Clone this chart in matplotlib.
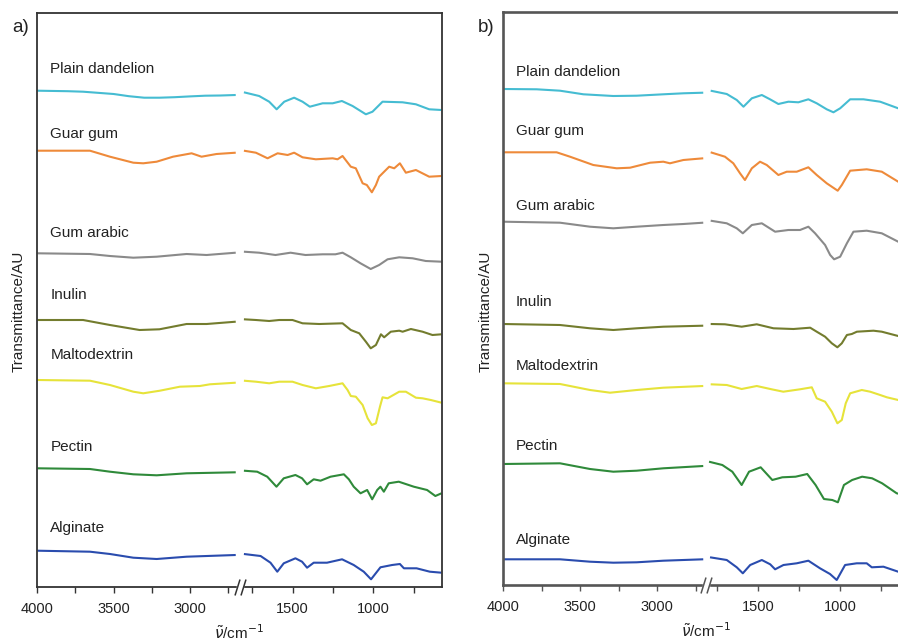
import numpy as np
import matplotlib
matplotlib.use("Agg")
import matplotlib.pyplot as plt
from matplotlib.path import Path

plt.rcParams['font.family'] = ['Liberation Sans', 'DejaVu Sans']

# ---------------- data ----------------
names = ["Plain dandelion", "Guar gum", "Gum arabic", "Inulin",
         "Maltodextrin", "Pectin", "Alginate"]
colors = ["#45bcd2", "#ee8a3a", "#8a8a8a", "#737c2e", "#e6e33a", "#2f8a3a", "#2a4cae"]

tick_major = [4000, 3500, 3000, 1500, 1000]
tick_minor = [3750, 3250, 2750, 1750, 1250, 750]

# baseline levels (AU) of each stacked spectrum
offsets_a = [496.3, 436.3, 333.7, 267.0, 207.0, 118.7, 36.3]
offsets_b = [496.0, 432.7, 363.3, 261.0, 201.7, 121.0, 25.7]

# panel a spectra: wavenumbers (cm-1) and transmittance change (AU, negative = absorption)
a_dandelion_wn = [4000, 3800, 3700, 3500, 3400, 3300, 3200, 3100, 3000, 2900, 2800, 2700,
                  1800, 1706, 1644, 1598, 1551, 1490, 1438, 1393, 1314, 1252, 1195, 1129,
                  1047, 1006, 944, 820, 738, 656, 580]
a_dandelion_t = [0, -0.5, -1, -3.3, -5.5, -7, -7, -6.5, -5.7, -5, -4.8, -4.3,
                 -1.6, -5.3, -11, -18.6, -11, -7, -11, -16, -12.6, -12.6, -10.3, -15.3,
                 -23.6, -21, -11, -11.6, -13.6, -18.6, -19.3]
a_guar_wn = [4000, 3742, 3655, 3524, 3371, 3306, 3218, 3111, 2989, 2924, 2826, 2700,
             1800, 1726, 1654, 1592, 1530, 1490, 1438, 1356, 1252, 1222, 1191, 1140, 1109,
             1067, 1041, 1010, 985, 965, 903, 872, 837, 800, 738, 656, 580]
a_guar_t = [0, 0, 0, -6, -12, -12.6, -11, -6, -2.6, -6, -3.3, -2,
            0, -2, -7.6, -2.6, -4.3, -2, -6.6, -8.6, -7.6, -8.6, -5.3, -16, -17.6,
            -32.6, -34.3, -41.6, -34.3, -26, -16, -17.6, -12.6, -22, -19.3, -26, -25.3]
a_arabic_wn = [4000, 3655, 3524, 3371, 3218, 3022, 2891, 2700,
               1800, 1706, 1605, 1512, 1420, 1314, 1235, 1191, 1140, 1080, 1017, 965, 913,
               841, 758, 677, 580]
a_arabic_t = [0, -0.7, -2.7, -4.4, -3.4, -0.7, -1.7, 0.6,
              1.6, 0.6, -1.7, 0.6, -1.7, -1, -1, 0.6, -4, -10, -15.7, -11.7, -6,
              -4, -5, -7.7, -8.4]
a_inulin_wn = [4000, 3700, 3524, 3330, 3200, 3022, 2891, 2700,
               1800, 1726, 1644, 1582, 1500, 1438, 1335, 1191, 1140, 1088, 1047, 1017, 985,
               954, 934, 893, 841, 820, 769, 697, 636, 580]
a_inulin_t = [0, 0, -5, -10, -9.3, -4, -4, -1.7,
              0.7, 0, -1, 0, 0, -3.3, -4, -3.3, -10, -13.3, -21.7, -28.3, -25,
              -14.3, -17.3, -11.7, -10.7, -11.7, -9, -11.7, -15, -14.3]
a_malto_wn = [4000, 3655, 3524, 3371, 3306, 3197, 3066, 2935, 2869, 2700,
              1800, 1726, 1644, 1582, 1500, 1438, 1356, 1274, 1191, 1160, 1140, 1109, 1067,
              1036, 1010, 985, 960, 944, 913, 841, 800, 738, 697, 646, 580]
a_malto_t = [0, -0.7, -5, -11.7, -13.3, -10.7, -6.7, -6, -4.3, -2.7,
             -0.7, -1.7, -3.3, -1.7, -1.7, -5, -8.3, -6, -3.3, -10, -16, -16.7, -25,
             -38.3, -45, -43.3, -26.7, -17.3, -18.3, -11.7, -11.7, -17.7, -18.3, -20, -22.7]
a_pectin_wn = [4000, 3655, 3524, 3371, 3218, 3022, 2700,
               1800, 1718, 1656, 1599, 1554, 1482, 1441, 1410, 1369, 1327, 1265, 1183, 1152,
               1122, 1080, 1039, 1008, 977, 957, 936, 906, 844, 751, 669, 618, 580]
a_pectin_t = [0, -0.7, -3.4, -6, -7, -5, -4,
              -2.4, -3.4, -8.4, -18.4, -10, -6.7, -10, -16, -11, -12.4, -8.4, -6, -11,
              -18.4, -25, -21.7, -31, -21.7, -18.4, -23.4, -15, -13.4, -18.4, -21.7, -27.7, -25]
a_alginate_wn = [4000, 3655, 3524, 3371, 3218, 3022, 2700,
                 1800, 1697, 1636, 1594, 1554, 1482, 1441, 1410, 1369, 1287, 1194, 1122, 1060,
                 1015, 957, 885, 837, 812, 734, 652, 580]
a_alginate_t = [0, -1, -3.3, -7, -8.3, -6, -4.3,
                -3.3, -5.3, -12, -21, -12.6, -7.6, -11, -17, -12, -12, -8.6, -14.3, -21,
                -28.6, -16.6, -14.3, -13.3, -17.6, -17.6, -21, -22]

# panel b spectra
b_dandelion_wn = [4000, 3781, 3630, 3478, 3284, 3132, 2959, 2829, 2700,
                  1790, 1692, 1631, 1590, 1539, 1478, 1428, 1377, 1316, 1255, 1194, 1143,
                  1082, 1041, 1000, 939, 858, 756, 646, 580]
b_dandelion_t = [0, -0.3, -1.7, -5.3, -7, -6.7, -5.3, -4.3, -3.7,
                 -1.7, -5, -11, -17.7, -9.3, -6, -10.3, -15, -12.7, -13.3, -10.3, -14.3,
                 -20.3, -23.3, -19.3, -10.3, -10.3, -12.7, -19.3, -21]
b_guar_wn = [4000, 3652, 3565, 3414, 3262, 3175, 3045, 2959, 2916, 2829, 2700,
             1790, 1703, 1652, 1611, 1581, 1539, 1489, 1448, 1377, 1326, 1265, 1194, 1143,
             1082, 1015, 990, 939, 838, 746, 646, 580]
b_guar_t = [0, 0, -4.4, -12.7, -16, -15.4, -10.4, -9.4, -11, -7.7, -6,
            0, -4.4, -11, -21, -27.7, -16, -9.4, -12.7, -22.7, -19.4, -19.4, -15, -22.7,
            -31, -38.4, -32.7, -18.4, -17, -19.4, -29.4, -31]
b_arabic_wn = [4000, 3630, 3435, 3284, 3132, 2959, 2829, 2700,
               1790, 1692, 1631, 1594, 1539, 1478, 1397, 1316, 1245, 1194, 1153, 1092, 1061,
               1037, 1000, 959, 919, 838, 746, 646, 580]
b_arabic_t = [0, -1, -5, -6.6, -5, -3.3, -2.3, -1,
              1, -1.6, -6.6, -11.6, -3.3, -1.6, -10, -8.3, -8.3, -5, -11.6, -23.3, -33.3,
              -37.6, -35, -21.6, -10, -9, -11.6, -20, -22]
b_inulin_wn = [4000, 3630, 3435, 3284, 3132, 2959, 2700,
               1790, 1703, 1601, 1509, 1407, 1285, 1183, 1143, 1092, 1051, 1017, 990, 959,
               929, 898, 797, 746, 646, 580]
b_inulin_t = [0, -1, -4.3, -6, -4.3, -2.7, -1.7,
              0, -0.3, -2.7, -0.3, -4.3, -5, -3.7, -7.7, -12.7, -19.3, -23.3, -19.3, -11,
              -10, -7.7, -6.7, -7.7, -12, -13]
b_malto_wn = [4000, 3630, 3435, 3305, 3132, 2959, 2700,
              1790, 1692, 1601, 1509, 1418, 1347, 1245, 1173, 1143, 1092, 1051, 1017, 990,
              966, 939, 868, 817, 756, 715, 646, 580]
b_malto_t = [0, -0.7, -6.7, -9.4, -6.7, -4.4, -2.7,
             -1, -1.7, -5.7, -2.7, -6, -8.4, -6, -4, -15, -18.4, -28.4, -40, -36.7,
             -20, -10, -6.7, -8.4, -11.7, -14, -16.7, -18]
b_pectin_wn = [4000, 3630, 3435, 3284, 3132, 2959, 2700,
               1800, 1719, 1658, 1601, 1556, 1485, 1414, 1353, 1272, 1201, 1150, 1099, 1048,
               1014, 977, 927, 866, 805, 744, 655, 580]
b_pectin_t = [0, 0.7, -5, -7.7, -6.7, -4.3, -2,
              2.3, -1, -7.7, -21, -7.7, -3.3, -16, -13.3, -12.7, -10, -21, -35, -36,
              -38.3, -21, -16, -12.7, -14.3, -19.3, -29.3, -32]
b_alginate_wn = [4000, 3630, 3435, 3284, 3132, 2959, 2700,
                 1794, 1692, 1631, 1594, 1549, 1478, 1427, 1397, 1346, 1265, 1194, 1123, 1062,
                 1021, 970, 899, 838, 807, 736, 646, 580]
b_alginate_t = [0, 0, -2.4, -3.4, -3, -1.4, 0,
                2, -0.7, -8, -14, -5.7, -0.7, -5, -10, -5.7, -4, -1.4, -9, -14.7,
                -20.7, -5.7, -4, -4, -8, -7.4, -12.4, -13]

spectra_a = [(a_dandelion_wn, a_dandelion_t), (a_guar_wn, a_guar_t), (a_arabic_wn, a_arabic_t),
             (a_inulin_wn, a_inulin_t), (a_malto_wn, a_malto_t), (a_pectin_wn, a_pectin_t),
             (a_alginate_wn, a_alginate_t)]
spectra_b = [(b_dandelion_wn, b_dandelion_t), (b_guar_wn, b_guar_t), (b_arabic_wn, b_arabic_t),
             (b_inulin_wn, b_inulin_t), (b_malto_wn, b_malto_t), (b_pectin_wn, b_pectin_t),
             (b_alginate_wn, b_alginate_t)]

# label heights (layout)
label_y_a = [518, 453, 353.7, 292, 232, 140.3, 59.3]
label_y_b = [513.3, 454, 379.3, 283.3, 219.3, 139, 45]


# ------------- broken-axis scale (increasing function of wavenumber) -------------
def make_scale(ratio, gap):
    def fwd(w):
        w = np.asarray(w, dtype=float)
        left = 4000.0 - w
        mid = 1300.0 + (2700.0 - w) / 900.0 * gap
        right = 1300.0 + gap + (1800.0 - w) * ratio
        return -np.where(w >= 2700, left, np.where(w <= 1800, right, mid))

    def inv(q):
        p = -np.asarray(q, dtype=float)
        left = 4000.0 - p
        mid = 2700.0 - (p - 1300.0) / gap * 900.0
        right = 1800.0 - (p - 1300.0 - gap) / ratio
        return np.where(p <= 1300, left, np.where(p >= 1300 + gap, right, mid))
    return fwd, inv


W, H = 898, 643
fig = plt.figure(figsize=(W / 100, H / 100), dpi=100)


def panel(rect, spectra, offsets, label_y, ratio, gap, spine_color, spine_lw,
          ylabel_xy, letter, letter_xy):
    ax = fig.add_axes([rect[0] / W, 1 - rect[3] / H, (rect[2] - rect[0]) / W,
                       (rect[3] - rect[1]) / H])
    ax.set_xscale('function', functions=make_scale(ratio, gap))
    for (wn, t), off, c, nm, ly in zip(spectra, offsets, colors, names, label_y):
        wn = np.asarray(wn, float)
        y = off + np.asarray(t, float)
        lm = wn > 2250
        ax.plot(wn[lm], y[lm], color=c, lw=1.5, solid_capstyle='butt')
        ax.plot(wn[~lm], y[~lm], color=c, lw=1.5, solid_capstyle='butt')
        ax.text(3915, ly, nm, fontsize=11, color='#222222', ha='left', va='center')
    ax.set_xticks(tick_major)
    ax.set_xticklabels([str(v) for v in tick_major])
    ax.set_xticks(tick_minor, minor=True)
    ax.set_xlim(4000, 580)
    ax.set_ylim(0, rect[3] - rect[1])
    ax.tick_params(axis='x', which='both', direction='out', length=4, width=1,
                   color=spine_color, labelsize=10.5, pad=7, labelcolor='#222222')
    ax.set_yticks([])
    for s in ax.spines.values():
        s.set_color(spine_color)
        s.set_linewidth(spine_lw)
    ax.set_xlabel(r'$\tilde{\nu}$/cm$^{-1}$', fontsize=11, labelpad=5, color='#222222')
    ax.set_ylabel('Transmittance/AU', fontsize=11, color='#222222')
    ax.yaxis.set_label_coords(*ylabel_xy)
    # break marks on the bottom axis
    slash = Path([(-5.5, -8), (-0.5, 8), (0.5, -8), (5.5, 8)],
                 [Path.MOVETO, Path.LINETO, Path.MOVETO, Path.LINETO])
    xt = ax.get_xaxis_transform()
    ax.plot([2250], [0], marker='s', markersize=4.5, color='white', mec='white',
            transform=xt, clip_on=False, zorder=6)
    ax.plot([2250], [0], marker=slash, markersize=11.5, mfc='none', mec=spine_color,
            mew=1.1, transform=xt, clip_on=False, zorder=7)
    fig.text(letter_xy[0] / W, 1 - letter_xy[1] / H, letter, fontsize=13.5,
             ha='center', va='center', color='#222222')
    return ax


panel((37.3, 13, 441.5, 587), spectra_a, offsets_a, label_y_a, 1.061, 53.6,
      '#333333', 1.3, (-0.030, 0.48), 'a)', (21, 27))
panel((503, 12, 909, 585), spectra_b, offsets_b, label_y_b, 1.064, 37.7,
      '#555555', 1.9, (-0.025, 0.478), 'b)', (486, 27))

fig.savefig('out.png', dpi=100)
